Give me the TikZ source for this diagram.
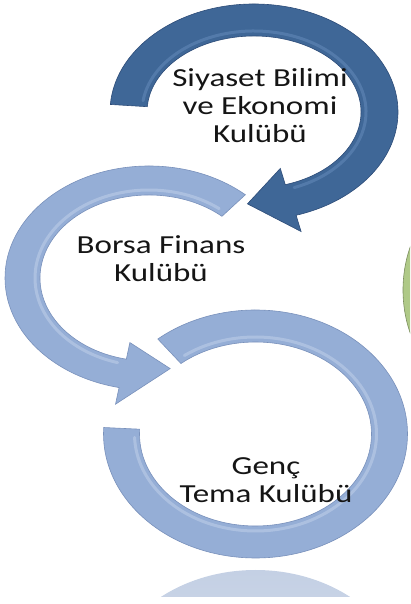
\documentclass[tikz,border=0pt]{standalone}
\usepackage{fontspec}
\newfontfamily\clubfont[FakeStretch=1.27]{Carlito}
\usetikzlibrary{calc}
\definecolor{darkring}{HTML}{3F6797}
\definecolor{darkringedge}{HTML}{2D4C78}
\definecolor{darkglint}{HTML}{6D93C2}
\definecolor{lightring}{HTML}{95AED6}
\definecolor{lightringedge}{HTML}{7991BB}
\definecolor{lightglint}{HTML}{C9D7EE}
\definecolor{mirrorblue}{HTML}{C4D0E4}
\definecolor{leafgreen}{HTML}{AFC987}
\definecolor{clubtext}{HTML}{151515}
\tikzset{
  ringdark/.style={fill=darkring, draw=darkringedge, line width=0.6pt},
  ringlight/.style={fill=lightring, draw=lightringedge, line width=0.6pt},
  glint/.style={line width=3pt, line cap=round, opacity=0.45},
  clublabel/.style={align=center, inner sep=0pt, text=clubtext,
    font=\clubfont\fontsize{26}{28}\selectfont},
}

\begin{document}
\begin{tikzpicture}[x=1pt,y=1pt]
			%%%%% FRAME %%%%%
			\useasboundingbox (0,0) rectangle (410,604);
			\clip (0,0) rectangle (410,604);
			
			\coordinate (topc) at (254,492);
			\coordinate (midc) at (149,326);
			\coordinate (lowc) at (255.5,170);
			
			%%%%% GREEN PIECE AT THE EDGE %%%%%
			\draw[fill=leafgreen, draw=leafgreen!70!black, line width=0.6pt] (535,314) circle (132);
			\fill[white, opacity=0.35] (548,314) circle (126);
			
			%%%%% REFLECTION %%%%%
			\begin{scope}
				\clip (140,7) rectangle (380,40);
				\shade[top color=mirrorblue, bottom color=mirrorblue!55!white] (255.5,-90) ellipse[x radius=152, y radius=124];
			\end{scope}
			
			%%%%% LOWER RING %%%%%
			\draw[ringlight] ($(lowc)+({152*cos(130)},{124*sin(130)})$)
				arc[start angle=130, end angle=-183, x radius=152, y radius=124]
				-- ($(lowc)+({116*cos(-183)},{92*sin(-183)})$)
				arc[start angle=-183, end angle=130, x radius=116, y radius=92] -- cycle;
			\draw[glint, lightglint] ($(lowc)+({121*cos(126)},{97*sin(126)})$)
				arc[start angle=126, end angle=-178, x radius=121, y radius=97];
			
			%%%%% MIDDLE RING %%%%%
			\draw[ringlight] ($(midc)+({144*cos(48)},{112*sin(48)})$)
				arc[start angle=48, end angle=258, x radius=144, y radius=112]
				-- ($(midc)+({161*cos(258)},{129*sin(258)})$)
				-- ($(midc)+({122*cos(280)},{92*sin(280)})$)
				-- ($(midc)+({92*cos(258)},{66*sin(258)})$)
				-- ($(midc)+({109*cos(258)},{83*sin(258)})$)
				arc[start angle=258, end angle=48, x radius=109, y radius=83] -- cycle;
			\draw[glint, lightglint] ($(midc)+({114*cos(52)},{88*sin(52)})$)
				arc[start angle=52, end angle=254, x radius=114, y radius=88];
			
			%%%%% TOP RING %%%%%
			\draw[ringdark] ($(topc)+({144*cos(176)},{108*sin(176)})$)
				arc[start angle=176, end angle=-73, x radius=144, y radius=108]
				-- ($(topc)+({161*cos(-73)},{125*sin(-73)})$)
				-- ($(topc)+({125*cos(-93)},{92*sin(-93)})$)
				-- ($(topc)+({90*cos(-73)},{59*sin(-73)})$)
				-- ($(topc)+({107*cos(-73)},{76*sin(-73)})$)
				arc[start angle=-73, end angle=176, x radius=107, y radius=76] -- cycle;
			\draw[glint, darkglint] ($(topc)+({112*cos(172)},{81*sin(172)})$)
				arc[start angle=172, end angle=-69, x radius=112, y radius=81];
			
			%%%%% LABELS %%%%%
			\node[clublabel] (siyaset) at (260,498) {Siyaset Bilimi\\ve Ekonomi\\Kulübü};
			\node[clublabel] (borsa) at (161,345) {Borsa Finans\\Kulübü};
			\node[clublabel] (genc) at (266,124) {Genç\\Tema Kulübü};
			
			%%%%% END %%%%%
\end{tikzpicture}
\end{document}
